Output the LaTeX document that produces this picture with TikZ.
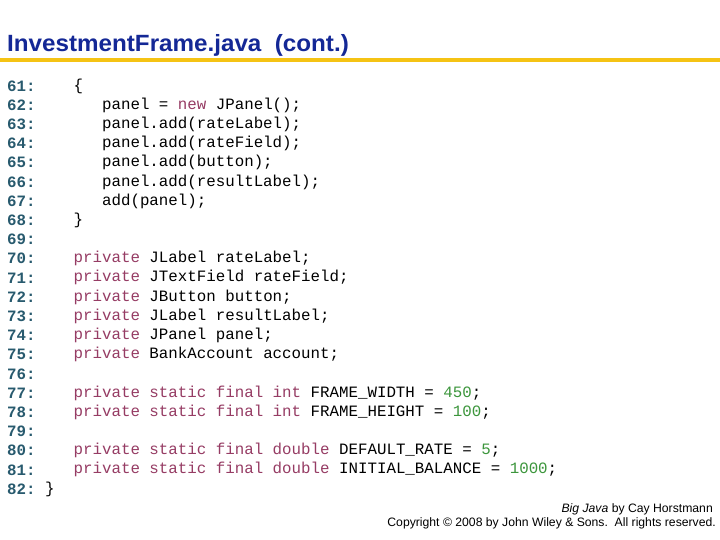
\documentclass[tikz,border=0pt]{standalone}
\usepackage{fontspec}
\setmainfont{Liberation Sans}
\setmonofont{Liberation Mono}
\definecolor{ttl}{RGB}{20,40,150}
\definecolor{bar}{RGB}{245,195,20}
\definecolor{lnum}{RGB}{40,90,110}
\definecolor{kw}{RGB}{150,60,100}
\definecolor{nm}{RGB}{60,150,60}
\newcommand{\kw}[1]{\textcolor{kw}{#1}}
\newcommand{\nm}[1]{\textcolor{nm}{#1}}
\begin{document}
\begin{tikzpicture}[x=1pt,y=-1pt,
  ln/.style={anchor=west,inner sep=0pt,font=\fontsize{15.8}{19}\ttfamily\bfseries,text=lnum},
  cd/.style={anchor=west,inner sep=0pt,font=\fontsize{15.8}{19}\ttfamily}]
\useasboundingbox (0,0) rectangle (720,540);
\fill[white] (0,0) rectangle (720,540);
\node[anchor=base west,inner sep=0pt,font=\fontsize{23.5}{26}\selectfont\bfseries,text=ttl,xscale=1.03] (title) at (7,52) {InvestmentFrame.java\ \ (cont.)};
\fill[bar] (0,58) rectangle (720,62.5);
\foreach \n [count=\i from 0] in {61,...,82}
  \node[ln] (n\n) at (7,86+19.19*\i) {\n:};
\def\c{9.48}
\node[cd] (l61) at (45+3*\c,86) {\{};
\node[cd] (l62) at (45+6*\c,86+19.19*1) {panel = \kw{new} JPanel();};
\node[cd] (l63) at (45+6*\c,86+19.19*2) {panel.add(rateLabel);};
\node[cd] (l64) at (45+6*\c,86+19.19*3) {panel.add(rateField);};
\node[cd] (l65) at (45+6*\c,86+19.19*4) {panel.add(button);};
\node[cd] (l66) at (45+6*\c,86+19.19*5) {panel.add(resultLabel);};
\node[cd] (l67) at (45+6*\c,86+19.19*6) {add(panel);};
\node[cd] (l68) at (45+3*\c,86+19.19*7) {\}};
\node[cd] (l70) at (45+3*\c,86+19.19*9) {\kw{private} JLabel rateLabel;};
\node[cd] (l71) at (45+3*\c,86+19.19*10) {\kw{private} JTextField rateField;};
\node[cd] (l72) at (45+3*\c,86+19.19*11) {\kw{private} JButton button;};
\node[cd] (l73) at (45+3*\c,86+19.19*12) {\kw{private} JLabel resultLabel;};
\node[cd] (l74) at (45+3*\c,86+19.19*13) {\kw{private} JPanel panel;};
\node[cd] (l75) at (45+3*\c,86+19.19*14) {\kw{private} BankAccount account;};
\node[cd] (l77) at (45+3*\c,86+19.19*16) {\kw{private static final int} FRAME\_WIDTH = \nm{450};};
\node[cd] (l78) at (45+3*\c,86+19.19*17) {\kw{private static final int} FRAME\_HEIGHT = \nm{100};};
\node[cd] (l80) at (45+3*\c,86+19.19*19) {\kw{private static final double} DEFAULT\_RATE = \nm{5};};
\node[cd] (l81) at (45+3*\c,86+19.19*20) {\kw{private static final double} INITIAL\_BALANCE = \nm{1000};};
\node[cd] (l82) at (45,86+19.19*21) {\}};
\node[anchor=base east,inner sep=0pt,font=\fontsize{12.2}{14}\selectfont] (f1) at (713,512) {\textit{Big Java} by Cay Horstmann};
\node[anchor=base east,inner sep=0pt,font=\fontsize{12.2}{14}\selectfont] (f2) at (716,526) {Copyright © 2008 by John Wiley \& Sons.\ \ All rights reserved.};
\end{tikzpicture}
\end{document}
